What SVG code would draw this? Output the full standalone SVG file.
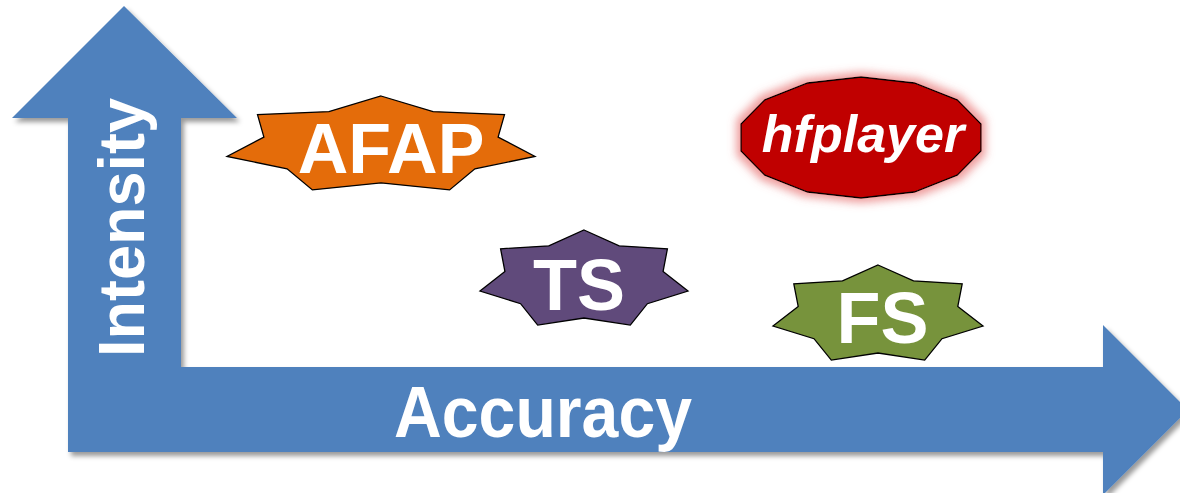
<svg xmlns="http://www.w3.org/2000/svg" width="1180" height="493" viewBox="0 0 1180 493">
  <style>
    .lbl { font-family: "Liberation Sans", Arial, Helvetica, sans-serif; font-weight: bold; fill: #ffffff; text-anchor: middle; }
    .star { stroke: #000000; stroke-width: 1.3; stroke-linejoin: miter; }
  </style>
  <defs>
    <filter id="axisShadow" x="-5%" y="-5%" width="115%" height="115%">
      <feDropShadow dx="3" dy="4" stdDeviation="2.5" flood-color="#000000" flood-opacity="0.4"/>
    </filter>
    <filter id="redGlow" x="-20%" y="-40%" width="140%" height="180%">
      <feMorphology in="SourceAlpha" operator="dilate" radius="4" result="grown"/>
      <feGaussianBlur in="grown" stdDeviation="4" result="soft"/>
      <feFlood flood-color="#E66A6A" flood-opacity="0.65"/>
      <feComposite in2="soft" operator="in" result="halo"/>
      <feMerge>
        <feMergeNode in="halo"/>
        <feMergeNode in="SourceGraphic"/>
      </feMerge>
    </filter>
  </defs>

  <!-- axes: one L-shaped double arrow -->
  <g id="axes">
    <path d="M68 452 L68 118 L12 118 L124 6 L237 118 L181 118 L181 367 L1103 367 L1103 325 L1188 410 L1103 495 L1103 452 Z"
          fill="#4F81BD" filter="url(#axisShadow)"/>
    <text class="lbl" font-size="64" textLength="259" lengthAdjust="spacingAndGlyphs" transform="translate(144,227.5) rotate(-90)" x="0" y="0">Intensity</text>
    <text class="lbl" font-size="72" textLength="298" lengthAdjust="spacingAndGlyphs" x="543" y="437">Accuracy</text>
  </g>

  <g id="connectors"/>

  <!-- AFAP: seven-point star -->
  <g id="node-afap">
    <polygon class="star" fill="#E46C0A"
      points="381,96 433.1,111.6 504.5,114.6 498.1,137.1 535,156.4 474.9,168.8 449.6,189.9 381,182.9 312.4,189.9 287.1,168.8 227,156.4 263.9,137.1 257.5,114.6 328.9,111.6"/>
    <text class="lbl" font-size="70" x="391" y="173">AFAP</text>
  </g>

  <!-- hfplayer: 14-sided polygon with glow -->
  <g id="node-hfplayer">
    <polygon fill="#C00000" stroke="#000000" stroke-width="1.3" filter="url(#redGlow)"
      points="861,77 914.4,83 957.2,99.8 981,124 981,151 957.2,175.2 914.4,192 861,198 807.6,192 764.8,175.2 741,151 741,124 764.8,99.8 807.6,83"/>
    <text class="lbl" font-size="52" font-style="italic" x="863" y="152">hfplayer</text>
  </g>

  <!-- TS: seven-point star -->
  <g id="node-ts">
    <polygon class="star" fill="#604A7B"
      points="584,230 619.2,245.8 667.4,248.8 663.1,271.5 688,291.1 647.4,303.7 630.3,325.1 584,318 537.7,325.1 520.6,303.7 480,291.1 504.9,271.5 500.6,248.8 548.8,245.8"/>
    <text class="lbl" font-size="72" x="579" y="310">TS</text>
  </g>

  <!-- FS: seven-point star -->
  <g id="node-fs">
    <polygon class="star" fill="#77933C"
      points="878,265 913.5,280.8 962.2,283.8 957.8,306.5 983,326.1 942,338.7 924.7,360.1 878,353 831.3,360.1 814,338.7 773,326.1 798.2,306.5 793.8,283.8 842.5,280.8"/>
    <text class="lbl" font-size="72" x="882.5" y="343">FS</text>
  </g>
</svg>
